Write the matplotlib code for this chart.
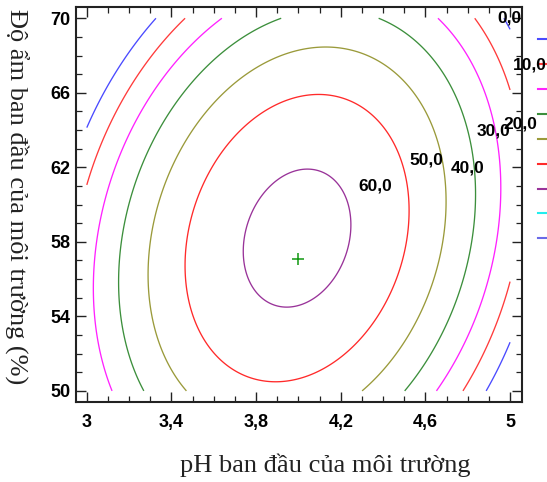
import numpy as np
import matplotlib
matplotlib.use("Agg")
import matplotlib.pyplot as plt
from matplotlib.lines import Line2D
from matplotlib.ticker import FixedLocator, MultipleLocator, FixedFormatter

# ---- data (fitted response surface) ----
ph_range = (3.0, 5.0)      # experimental pH range
moist_range = (50.0, 70.0) # experimental moisture range (%)
ph_center = 3.9936         # stationary point, pH
moist_center = 58.20       # stationary point, moisture %
peak_value = 63.0          # maximum response
coef_ph2 = -48.17          # coefficient of (pH - c)^2
coef_moist2 = -0.227       # coefficient of (moist - c)^2
coef_cross = 1.267         # coefficient of (pH - c)(moist - c)

levels = [0, 10, 20, 30, 40, 50, 60]
legend_levels = [0, 10, 20, 30, 40, 50, 60, 70, 80]
level_colors = ['#4a4aff', '#ff3b3b', '#ff22ff', '#3c8f3c', '#9a9a3a', '#ff2a2a', '#993399']
legend_colors = ['#4a4aff', '#ff3b3b', '#ff22ff', '#3c8f3c', '#9a9a3a', '#ff2a2a', '#993399', '#22eeee', '#6a6ae8']
label_texts = ['0,0', '10,0', '20,0', '30,0', '40,0', '50,0', '60,0']
label_pos = [(4.995, 70.02), (5.095, 67.49), (5.047, 64.32), (4.92, 63.95),
             (4.80, 61.96), (4.603, 62.39), (4.362, 60.99)]
marker_point = (3.998, 57.1)

x_ticks = [3, 3.4, 3.8, 4.2, 4.6, 5]
x_ticklabels = ['3', '3,4', '3,8', '4,2', '4,6', '5']
y_ticks = [50, 54, 58, 62, 66, 70]
y_ticklabels = ['50', '54', '58', '62', '66', '70']

# ---- figure ----
fig = plt.figure(figsize=(5.47, 4.82), dpi=100)
L, R, B, T = 76 / 547, 521.7 / 547, 1 - 401.7 / 482, 1 - 6.7 / 482
ax = fig.add_axes([L, B, R - L, T - B])

xlim = (2.949, 5.055)
ylim = (49.42, 70.62)
xs = np.linspace(ph_range[0], ph_range[1], 400)
ys = np.linspace(moist_range[0], moist_range[1], 400)
X, Y = np.meshgrid(xs, ys)
U = X - ph_center
V = Y - moist_center
Z = peak_value + coef_ph2 * U**2 + coef_moist2 * V**2 + coef_cross * U * V

ax.contour(X, Y, Z, levels=levels, colors=level_colors, linewidths=0.95)
ax.plot([marker_point[0]], [marker_point[1]], marker='+', color='#119911',
        markersize=8, markeredgewidth=1.1, linestyle='none')

for txt, (px, py) in zip(label_texts, label_pos):
    ax.text(px, py, txt, ha='center', va='center', fontsize=12.5,
            fontweight='bold', family=['Liberation Sans', 'DejaVu Sans'],
            clip_on=False, zorder=5)

ax.set_xlim(*xlim)
ax.set_ylim(*ylim)
ax.xaxis.set_major_locator(FixedLocator(x_ticks))
ax.xaxis.set_major_formatter(FixedFormatter(x_ticklabels))
ax.xaxis.set_minor_locator(MultipleLocator(0.1))
ax.yaxis.set_major_locator(FixedLocator(y_ticks))
ax.yaxis.set_major_formatter(FixedFormatter(y_ticklabels))
ax.yaxis.set_minor_locator(MultipleLocator(1))

ax.tick_params(which='both', direction='in', top=True, right=True, color='#222222')
ax.tick_params(which='major', length=7, width=1.0)
ax.tick_params(which='minor', length=4, width=0.9)
ax.tick_params(axis='x', which='major', pad=9)
ax.tick_params(axis='y', which='major', pad=4)
for lab in ax.get_xticklabels() + ax.get_yticklabels():
    lab.set_fontfamily(['Liberation Sans', 'DejaVu Sans'])
    lab.set_fontweight('bold')
    lab.set_fontsize(13)
for sp in ax.spines.values():
    sp.set_linewidth(1.5)
    sp.set_color('#222222')

serif = ['Liberation Serif', 'DejaVu Serif']
ax.set_xlabel('pH ban đầu của môi trường', fontsize=19, family=serif, color='#222222')
ax.xaxis.set_label_coords((325.5 - 76) / 445.7, (401.7 - 472) / 395)
ax.xaxis.label.set_verticalalignment('baseline')
ax.set_ylabel('Độ ẩm ban đầu của môi trường (%)', fontsize=19, family=serif,
              rotation=270, color='#222222')
ax.yaxis.set_label_coords((4 - 76) / 445.7, (401.7 - 197) / 395)
ax.yaxis.label.set_rotation_mode('anchor')
ax.yaxis.label.set_verticalalignment('bottom')
ax.yaxis.label.set_horizontalalignment('center')

handles = [Line2D([0], [0], color=c, lw=1.5) for c in legend_colors]
leg_labels = [f'{v},0' for v in legend_levels]
leg = fig.legend(handles, leg_labels, loc='upper left',
                 bbox_to_anchor=(538 / 547, 1 - 30.4 / 482),
                 frameon=False, borderpad=0, borderaxespad=0,
                 handleheight=1.92, labelspacing=0, handlelength=2,
                 fontsize=12)
leg.set_zorder(-1)

fig.savefig('out.png', dpi=100)
